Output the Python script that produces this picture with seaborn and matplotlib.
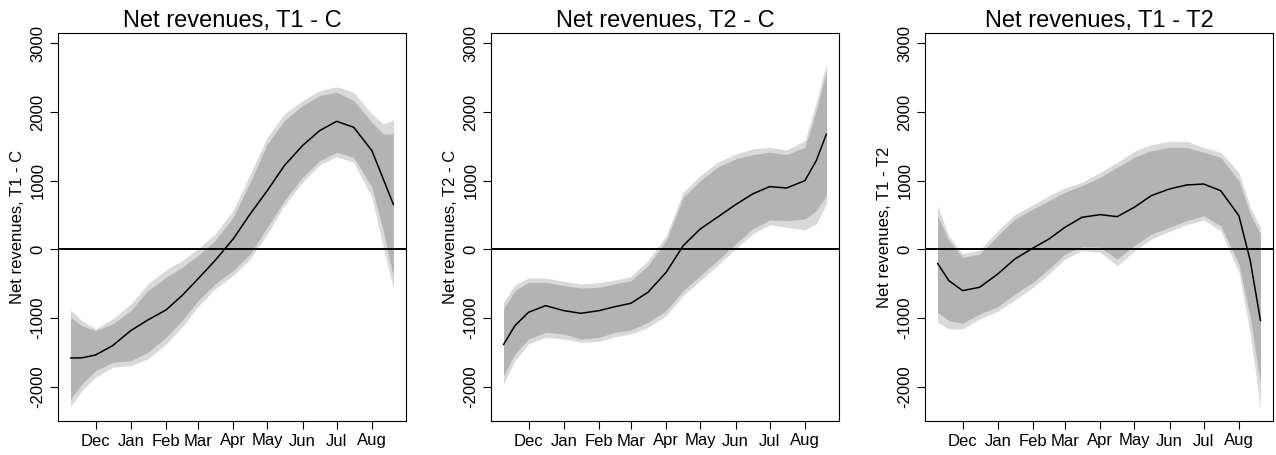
import seaborn as sns
import matplotlib.pyplot as plt

# days since 1 Dec
days = [-22, -12, 0, 15, 31, 46, 62, 76, 90, 105, 121, 136, 151, 166, 182, 197, 212, 227, 243, 253, 262]

month_days = [0, 31, 62, 90, 121, 151, 182, 212, 243]
month_labels = ["Dec", "Jan", "Feb", "Mar", "Apr", "May", "Jun", "Jul", "Aug"]

titles = ["Net revenues, T1 - C", "Net revenues, T2 - C", "Net revenues, T1 - T2"]
ylabels = ["Net revenues, T1 - C", "Net revenues, T2 - C", "Net revenues, T1 - T2"]

# T1 - C
t1c_mean = [-1583, -1580, -1539, -1403, -1184, -1029, -883, -675, -432, -165, 150, 515,
            854, 1218, 1510, 1728, 1864, 1777, 1437, 1024, 650]
t1c_hi_in = [-990, -1112, -1184, -1087, -893, -602, -408, -262, -92, 126, 466, 976,
             1534, 1874, 2092, 2238, 2286, 2165, 1850, 1680, 1680]
t1c_hi_out = [-883, -1039, -1160, -1015, -796, -505, -301, -165, 5, 223, 563, 1097,
              1631, 1971, 2165, 2311, 2369, 2286, 1971, 1825, 1883]
t1c_lo_in = [-2180, -1961, -1767, -1646, -1621, -1500, -1282, -1039, -748, -505, -311, -68,
             320, 709, 1049, 1291, 1413, 1340, 903, 272, -408]
t1c_lo_out = [-2291, -2058, -1864, -1718, -1694, -1597, -1379, -1136, -835, -578, -383, -141,
              223, 636, 976, 1228, 1350, 1267, 757, 29, -578]

# T2 - C
t2c_mean = [-1388, -1112, -917, -820, -893, -932, -893, -835, -786, -626, -335, 53,
            296, 466, 650, 806, 913, 893, 1000, 1291, 1680]
t2c_hi_in = [-869, -602, -481, -481, -529, -563, -553, -505, -456, -238, 126, 757,
             1000, 1194, 1316, 1379, 1413, 1379, 1485, 2019, 2602]
t2c_hi_out = [-772, -515, -417, -417, -466, -505, -485, -447, -398, -165, 199, 830,
              1073, 1267, 1388, 1461, 1485, 1447, 1583, 2141, 2709]
t2c_lo_in = [-1840, -1524, -1306, -1209, -1233, -1306, -1282, -1209, -1175, -1063, -893, -602,
             -383, -165, 78, 296, 427, 417, 442, 563, 782]
t2c_lo_out = [-1961, -1621, -1379, -1282, -1306, -1354, -1340, -1272, -1233, -1136, -966, -675,
              -456, -238, 5, 223, 359, 320, 282, 369, 660]

# T1 - T2
t1t2_mean = [-204, -456, -602, -553, -359, -141, 19, 150, 320, 466, 505, 476,
             612, 782, 879, 937, 951, 854, 490, -165, -1039]
t1t2_hi_in = [490, 126, -117, -68, 199, 442, 587, 709, 830, 927, 1049, 1194,
              1340, 1437, 1485, 1485, 1413, 1340, 1000, 515, 223]
t1t2_hi_out = [636, 199, -68, -10, 272, 505, 651, 782, 893, 976, 1121, 1267,
               1427, 1524, 1573, 1573, 1485, 1413, 1121, 612, 320]
t1t2_lo_in = [-917, -1039, -1078, -942, -835, -650, -481, -286, -68, 39, 29, -141,
              53, 223, 320, 417, 490, 345, -214, -990, -1961]
t1t2_lo_out = [-1063, -1160, -1160, -1015, -903, -738, -553, -359, -141, -19, -44, -238,
               -29, 150, 262, 359, 427, 272, -335, -1233, -2325]

panels = [
    (t1c_mean, t1c_lo_in, t1c_hi_in, t1c_lo_out, t1c_hi_out),
    (t2c_mean, t2c_lo_in, t2c_hi_in, t2c_lo_out, t2c_hi_out),
    (t1t2_mean, t1t2_lo_in, t1t2_hi_in, t1t2_lo_out, t1t2_hi_out),
]

sns.set_style("ticks")
plt.rcParams["font.family"] = ["Liberation Sans", "DejaVu Sans"]
plt.rcParams["text.color"] = "black"
plt.rcParams["axes.labelcolor"] = "black"
plt.rcParams["xtick.color"] = "black"
plt.rcParams["ytick.color"] = "black"

W, H = 1276, 455
fig = plt.figure(figsize=(W / 100, H / 100), dpi=100)
lefts = [58, 491, 925]

for i, (mean, lo_in, hi_in, lo_out, hi_out) in enumerate(panels):
    ax = fig.add_axes([lefts[i] / W, 34 / H, 348 / W, 388 / H])
    ax.fill_between(days, lo_out, hi_out, color="#d9d9d9", lw=0)
    ax.fill_between(days, lo_in, hi_in, color="#b3b3b3", lw=0)
    ax.axhline(0, color="black", lw=1.4)
    sns.lineplot(x=days, y=mean, color="black", lw=1.1, ax=ax)
    ax.set_xlim(-33, 273)
    ax.set_ylim(-2500, 3150)
    ax.set_xticks(month_days)
    ax.set_xticklabels(month_labels, fontsize=12)
    ax.set_yticks([-2000, -1000, 0, 1000, 2000, 3000])
    ax.set_yticklabels(["-2000", "-1000", "0", "1000", "2000", "3000"],
                       fontsize=12, rotation=90, va="center")
    ax.tick_params(direction="out", length=6, width=0.8, color="black", pad=3)
    ax.set_ylabel(ylabels[i], fontsize=12, labelpad=4)
    ax.set_xlabel("")
    ax.set_title(titles[i], fontsize=17, pad=4, color="black")
    for s in ax.spines.values():
        s.set_visible(True)
        s.set_color("black")
        s.set_linewidth(0.8)

fig.savefig("out.png", dpi=100)
